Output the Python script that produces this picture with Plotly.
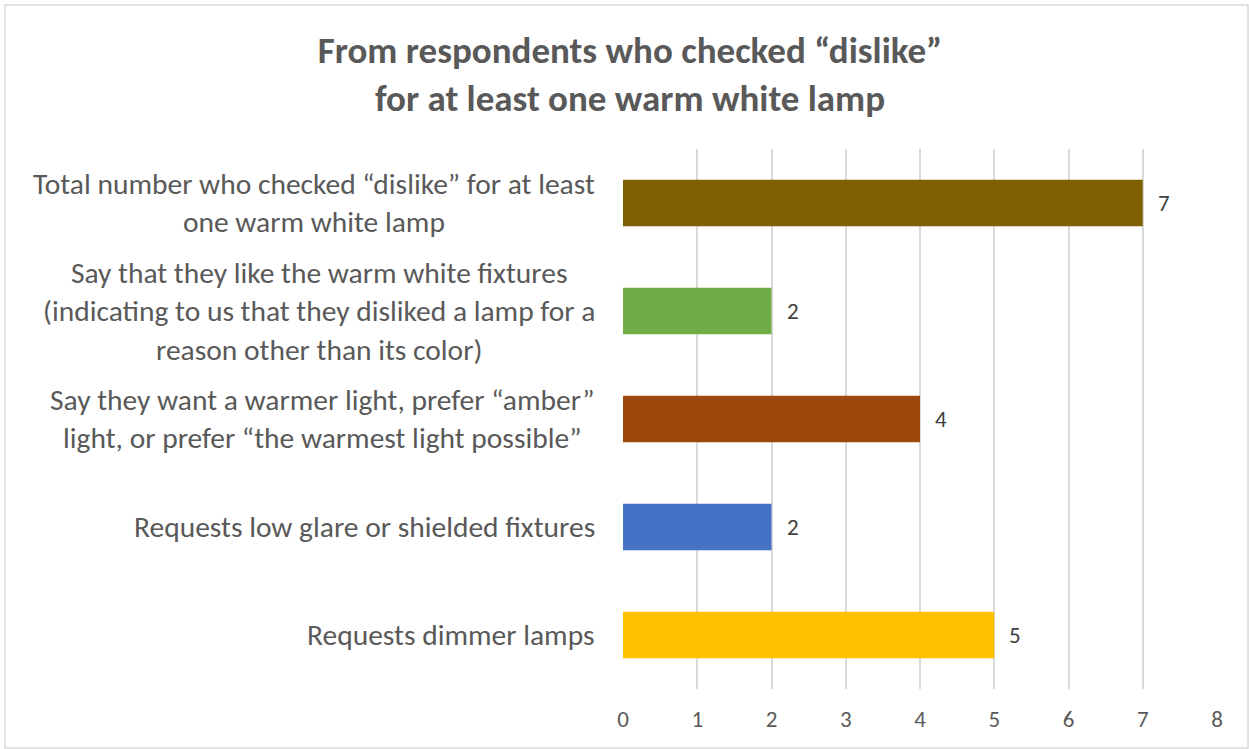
import plotly.graph_objects as go

categories = [
    "Requests dimmer lamps",
    "Requests low glare or shielded fixtures",
    "Say they want a warmer light, prefer “amber”<br>light, or prefer “the warmest light possible”",
    "Say that they like the warm white fixtures<br>(indicating to us that they disliked a lamp for a<br>reason other than its color)",
    "Total number who checked “dislike” for at least<br>one warm white lamp",
]
values = [5, 2, 4, 2, 7]
colors = ["#FFC000", "#4472C4", "#9E480E", "#70AD47", "#7F6000"]
x_ticks = [0, 1, 2, 3, 4, 5, 6, 7, 8]
title_text = "From respondents who checked “dislike”<br>for at least one warm white lamp"

W, H = 1249, 749
L, R, T, B = 623, 32, 149, 60
FONT = "Carlito, Calibri, Lato, sans-serif"

fig = go.Figure()
fig.add_trace(go.Bar(
    y=categories, x=values, orientation="h",
    marker=dict(color=colors, line=dict(width=0)),
    hoverinfo="skip",
))

for c, v in zip(categories, values):
    fig.add_annotation(
        x=0, xref="paper", y=c, yref="y",
        text=c, showarrow=False, xanchor="right", xshift=-26,
        align="center", font=dict(family=FONT, size=29.5, color="#595959"),
    )
    fig.add_annotation(
        x=v, xref="x", y=c, yref="y",
        text=str(v), showarrow=False, xanchor="left", xshift=13,
        font=dict(family=FONT, size=23, color="#404040"),
    )

plot_w = W - L - R
plot_h = H - T - B
fig.add_shape(type="rect", xref="paper", yref="paper",
              x0=(5 - L) / plot_w, x1=(W - 1 - L) / plot_w,
              y0=-(H - 1 - (H - B)) / plot_h, y1=1 + (T - 5) / plot_h,
              line=dict(color="#D9D9D9", width=1.5), fillcolor="rgba(0,0,0,0)", layer="below")

fig.update_layout(
    width=W, height=H,
    margin=dict(l=L, r=R, t=T, b=B),
    paper_bgcolor="white", plot_bgcolor="white",
    bargap=0.57,
    showlegend=False,
    title=dict(text=title_text, x=630 / W, xref="container", xanchor="center",
               y=1 - 63 / H, yref="container", yanchor="middle",
               font=dict(family=FONT, size=37, color="#595959", weight="bold")),
    xaxis=dict(range=[0, 8], tickvals=x_ticks, showgrid=True, gridcolor="#D9D9D9",
               gridwidth=1.5, zeroline=False, showline=False,
               tickfont=dict(family=FONT, size=23, color="#595959"),
               ticklabelstandoff=14, fixedrange=True),
    yaxis=dict(showticklabels=False, showgrid=False, zeroline=False, showline=False,
               fixedrange=True),
)

fig.write_html("out.html")
